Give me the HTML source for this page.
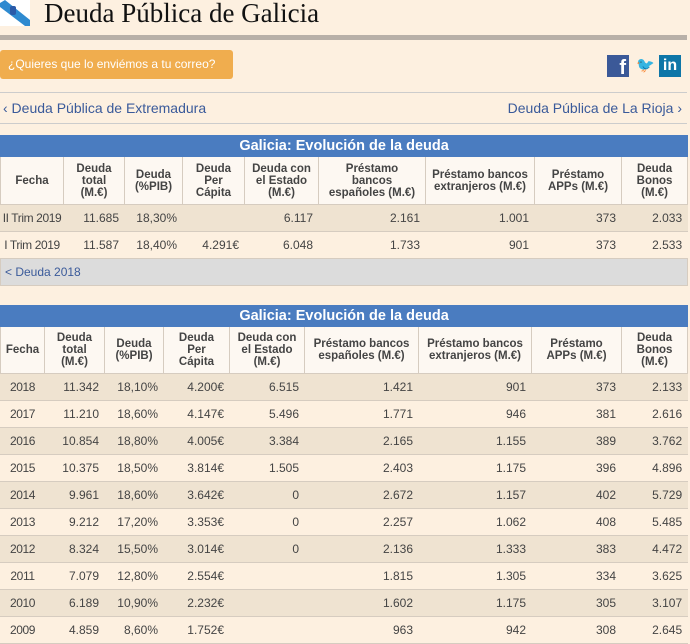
<!DOCTYPE html>
<html><head><meta charset="utf-8"><style>
*{margin:0;padding:0;box-sizing:border-box}
body{width:690px;height:642px;overflow:hidden;background:#fdf0e0;font-family:"Liberation Sans",Arial,sans-serif;position:relative}
.abs{position:absolute}
table{border-collapse:collapse;table-layout:fixed;position:absolute;left:0;width:687px;font-size:12px;color:#444}
td,th{border:1px solid #d6ccc0;overflow:hidden;white-space:nowrap;vertical-align:middle}
th.title{background:#4a7cc0;color:#fff;font-size:14.5px;font-weight:bold;height:21px;border-color:#4a7cc0}
th.h{background:#fdf8f2;color:#444;font-weight:bold;font-size:11.5px;line-height:12px;text-align:center;padding:0}
td{text-align:right;padding-right:5px;height:27px;line-height:14px}
tr.o td{background:#efe3d1;border-left-color:#efe3d1;border-right-color:#efe3d1}
tr.e td{background:#fdf0e0;border-left-color:#fdf0e0;border-right-color:#fdf0e0}
td.d{text-align:center;padding:0;letter-spacing:-0.4px}
</style></head><body>
<svg class="abs" style="left:0;top:0" width="30" height="26"><rect width="30" height="26" fill="#fff"/><polygon points="0,3 5,0 30,20 30,26 25,26 0,7" fill="#2e8ad0"/><rect x="10" y="6" width="6" height="9" rx="2" fill="#2a5aa8"/></svg>
<div class="abs" style="left:44px;top:-2px;font-family:'Liberation Serif',serif;font-size:27px;color:#111">Deuda Pública de Galicia</div>
<div class="abs" style="left:0;top:35px;width:687px;height:5px;background:#b8b0a8"></div>
<div class="abs" style="left:0;top:50px;width:233px;height:29px;background:#f0ad4e;border-radius:3px;color:#fff;font-size:12px;line-height:29px;padding-left:8px">¿Quieres que lo enviémos a tu correo?</div>
<div class="abs" style="left:607px;top:55px;width:22px;height:22px;background:#3b5998;color:#fff;font-weight:bold;font-size:20px;text-align:right;padding-right:3px;line-height:26px">f</div>
<div class="abs" style="left:636px;top:56px;color:#1da1f2;font-size:15px">🐦</div>
<div class="abs" style="left:659px;top:55px;width:22px;height:22px;background:#0e76a8;color:#fff;font-weight:bold;font-size:16px;text-align:center;line-height:22px">in</div>
<div class="abs" style="left:0;top:92px;width:687px;height:1px;background:#ccc"></div>
<div class="abs" style="left:3px;top:100px;color:#3a5a9a;font-size:14px">‹ Deuda Pública de Extremadura</div>
<div class="abs" style="right:8px;top:100px;color:#3a5a9a;font-size:14px">Deuda Pública de La Rioja ›</div>
<div class="abs" style="left:0;top:123px;width:687px;height:1px;background:#ccc"></div>

<table style="top:135px">
<colgroup><col style="width:63px"><col style="width:61px"><col style="width:58px"><col style="width:62px"><col style="width:74px"><col style="width:107px"><col style="width:109px"><col style="width:87px"><col style="width:66px"></colgroup>
<tr><th class="title" colspan="9">Galicia: Evolución de la deuda</th></tr>
<tr style="height:48px"><th class="h">Fecha</th><th class="h">Deuda<br>total<br>(M.€)</th><th class="h">Deuda<br>(%PIB)</th><th class="h">Deuda<br>Per<br>Cápita</th><th class="h">Deuda con<br>el Estado<br>(M.€)</th><th class="h">Préstamo<br>bancos<br>españoles (M.€)</th><th class="h">Préstamo bancos<br>extranjeros (M.€)</th><th class="h">Préstamo<br>APPs (M.€)</th><th class="h">Deuda<br>Bonos<br>(M.€)</th></tr>
<tr class="o"><td class="d">II Trim 2019</td><td>11.685</td><td>18,30%</td><td></td><td>6.117</td><td>2.161</td><td>1.001</td><td>373</td><td>2.033</td></tr>
<tr class="e"><td class="d">I Trim 2019</td><td>11.587</td><td>18,40%</td><td>4.291€</td><td>6.048</td><td>1.733</td><td>901</td><td>373</td><td>2.533</td></tr>
<tr><td colspan="9" style="background:#dcdcdc;text-align:left;padding-left:4px;color:#3a5a9a;height:27px">&lt; Deuda 2018</td></tr>
</table>

<table style="top:305px">
<colgroup><col style="width:44px"><col style="width:60px"><col style="width:59px"><col style="width:66px"><col style="width:75px"><col style="width:114px"><col style="width:113px"><col style="width:90px"><col style="width:66px"></colgroup>
<tr><th class="title" colspan="9">Galicia: Evolución de la deuda</th></tr>
<tr style="height:47px"><th class="h">Fecha</th><th class="h">Deuda<br>total<br>(M.€)</th><th class="h">Deuda<br>(%PIB)</th><th class="h">Deuda<br>Per<br>Cápita</th><th class="h">Deuda con<br>el Estado<br>(M.€)</th><th class="h">Préstamo bancos<br>españoles (M.€)</th><th class="h">Préstamo bancos<br>extranjeros (M.€)</th><th class="h">Préstamo<br>APPs (M.€)</th><th class="h">Deuda<br>Bonos<br>(M.€)</th></tr>
<tr class="o"><td class="d">2018</td><td>11.342</td><td>18,10%</td><td>4.200€</td><td>6.515</td><td>1.421</td><td>901</td><td>373</td><td>2.133</td></tr>
<tr class="e"><td class="d">2017</td><td>11.210</td><td>18,60%</td><td>4.147€</td><td>5.496</td><td>1.771</td><td>946</td><td>381</td><td>2.616</td></tr>
<tr class="o"><td class="d">2016</td><td>10.854</td><td>18,80%</td><td>4.005€</td><td>3.384</td><td>2.165</td><td>1.155</td><td>389</td><td>3.762</td></tr>
<tr class="e"><td class="d">2015</td><td>10.375</td><td>18,50%</td><td>3.814€</td><td>1.505</td><td>2.403</td><td>1.175</td><td>396</td><td>4.896</td></tr>
<tr class="o"><td class="d">2014</td><td>9.961</td><td>18,60%</td><td>3.642€</td><td>0</td><td>2.672</td><td>1.157</td><td>402</td><td>5.729</td></tr>
<tr class="e"><td class="d">2013</td><td>9.212</td><td>17,20%</td><td>3.353€</td><td>0</td><td>2.257</td><td>1.062</td><td>408</td><td>5.485</td></tr>
<tr class="o"><td class="d">2012</td><td>8.324</td><td>15,50%</td><td>3.014€</td><td>0</td><td>2.136</td><td>1.333</td><td>383</td><td>4.472</td></tr>
<tr class="e"><td class="d">2011</td><td>7.079</td><td>12,80%</td><td>2.554€</td><td></td><td>1.815</td><td>1.305</td><td>334</td><td>3.625</td></tr>
<tr class="o"><td class="d">2010</td><td>6.189</td><td>10,90%</td><td>2.232€</td><td></td><td>1.602</td><td>1.175</td><td>305</td><td>3.107</td></tr>
<tr class="e"><td class="d">2009</td><td>4.859</td><td>8,60%</td><td>1.752€</td><td></td><td>963</td><td>942</td><td>308</td><td>2.645</td></tr>
</table>
</body></html>
